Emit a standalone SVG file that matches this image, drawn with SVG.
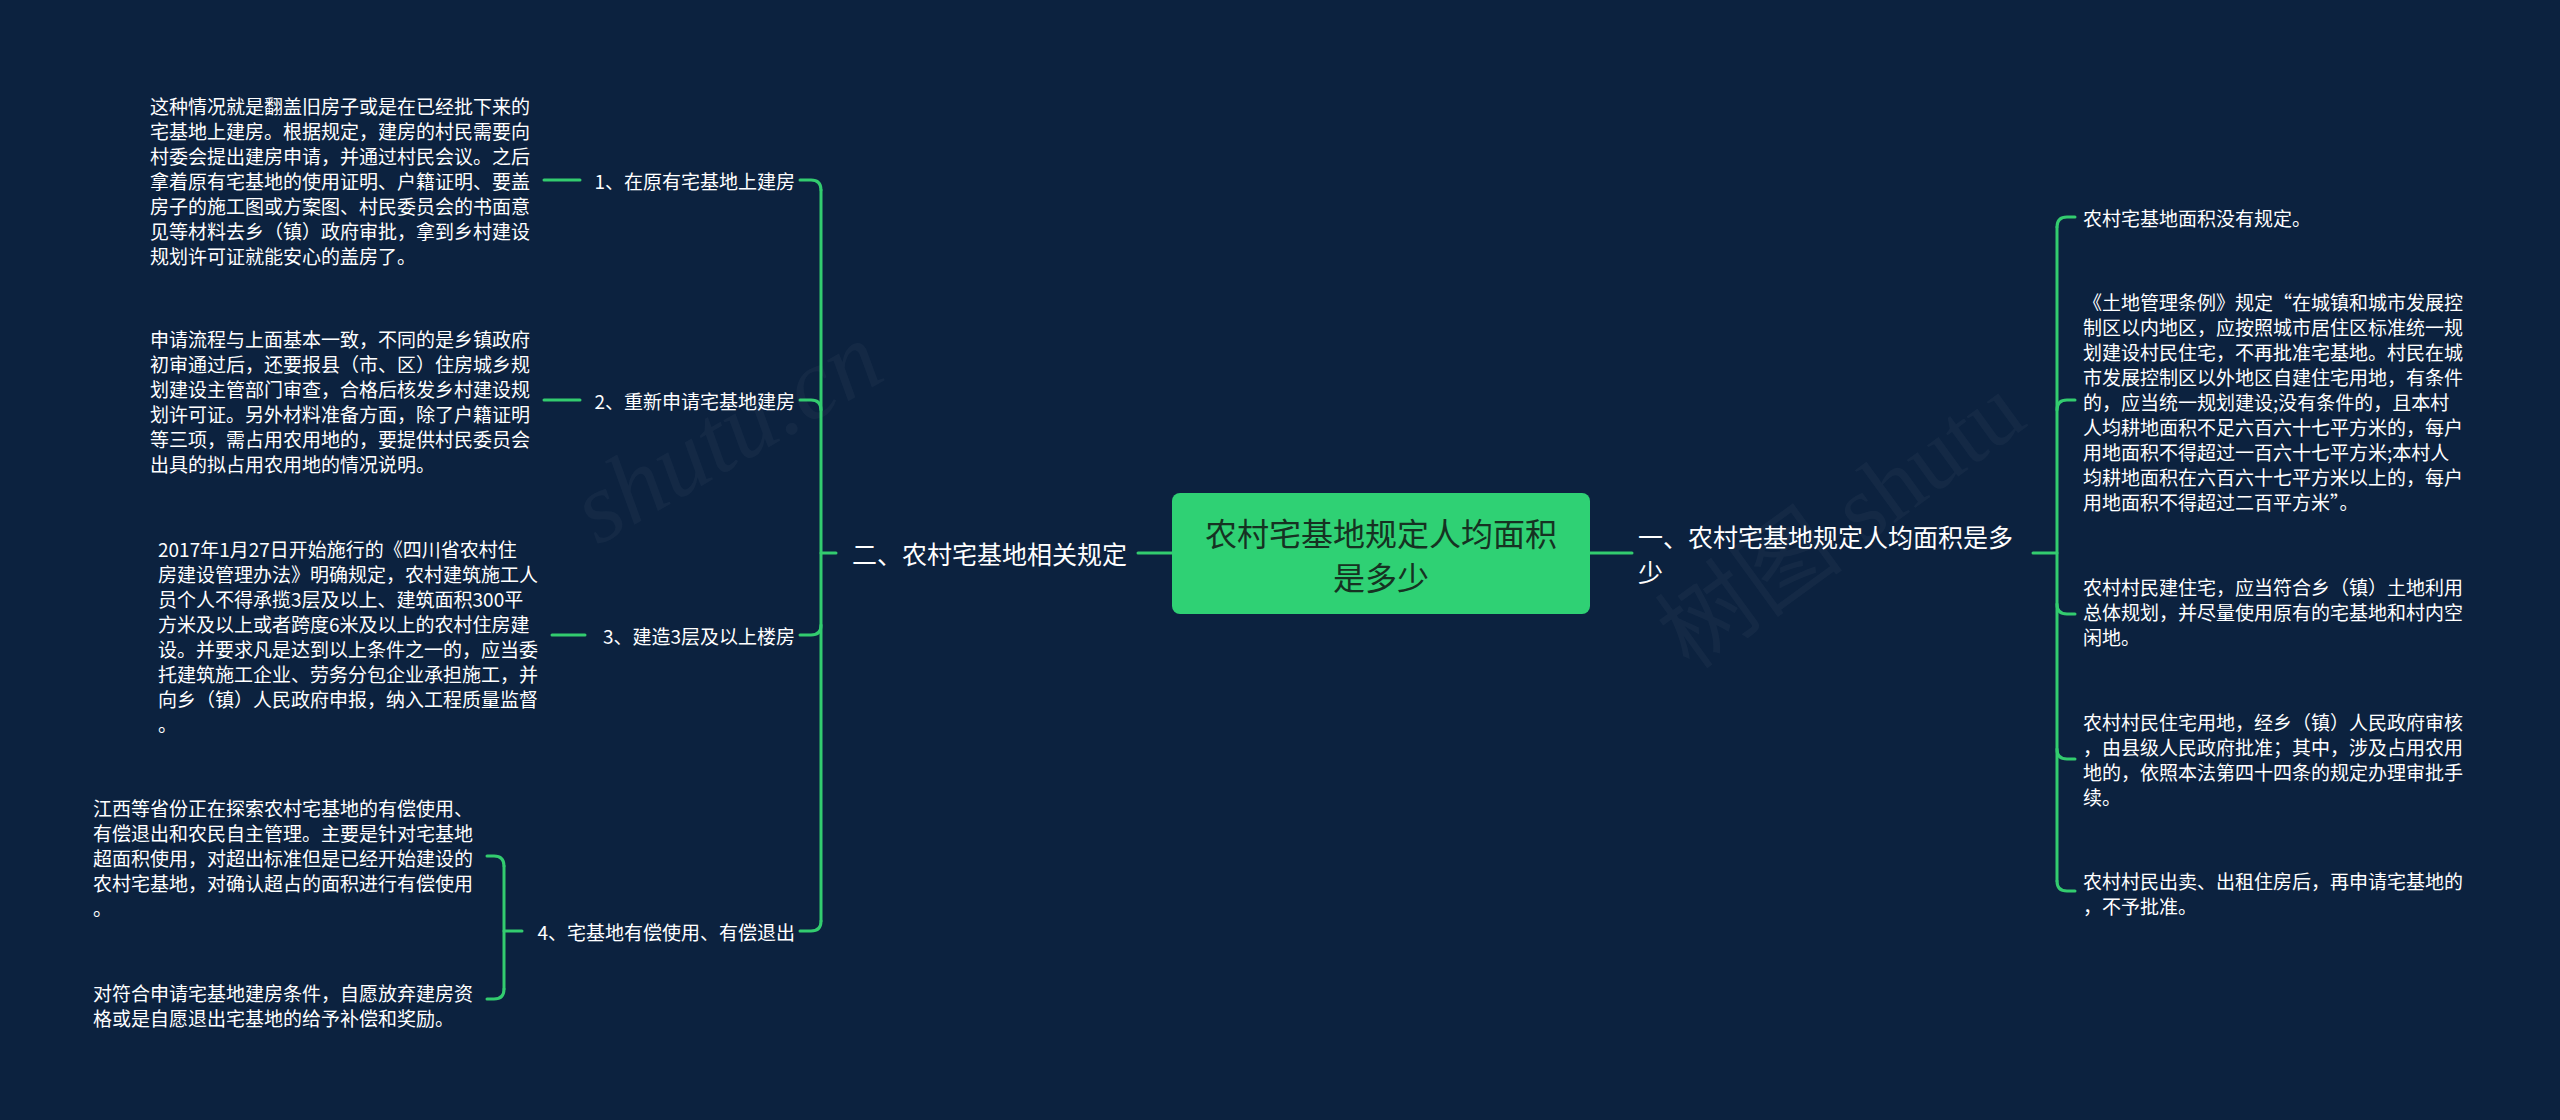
<svg xmlns="http://www.w3.org/2000/svg" width="2560" height="1120" viewBox="0 0 2560 1120">
<style>
.bg{fill:#0c223f}
.wm{font-family:"Liberation Serif",serif;font-style:italic;fill:#ffffff;fill-opacity:0.035}
.wmc{font-family:"Liberation Serif","Noto Sans CJK SC",serif;fill:#ffffff;fill-opacity:0.035}
.t{font-family:"Noto Sans CJK SC","Liberation Sans",sans-serif;fill:#ffffff;font-size:19px;dominant-baseline:central}
.m{font-family:"Noto Sans CJK SC","Liberation Sans",sans-serif;fill:#ffffff;font-size:25px;dominant-baseline:central}
.c{font-family:"Noto Sans CJK SC","Liberation Sans",sans-serif;fill:#163222;font-size:32px;dominant-baseline:central;text-anchor:middle}
.ln{fill:none;stroke:#33cc6f;stroke-width:3;stroke-linecap:round}
</style>
<rect class="bg" x="0" y="0" width="2560" height="1120"/>
<text class="wm" font-size="100" transform="translate(743,462) rotate(-30)" text-anchor="middle">shutu.cn</text>
<text class="wmc" font-size="95" transform="translate(1860,548) rotate(-36)" text-anchor="middle">树图 shutu</text>

<g id="connectors">
<path class="ln" d="M1138 553 H1172"/>
<path class="ln" d="M1590 553 H1632"/>
<path class="ln" d="M821 553 H836"/>
<path class="ln" d="M821 190 V921"/>
<path class="ln" d="M800 180 H811 Q821 180 821 190"/>
<path class="ln" d="M800 400 H811 Q821 400 821 410"/>
<path class="ln" d="M800 635 H811 Q821 635 821 625"/>
<path class="ln" d="M800 931 H811 Q821 931 821 921"/>
<path class="ln" d="M544 180 H580"/>
<path class="ln" d="M544 400 H580"/>
<path class="ln" d="M552 635 H585"/>
<path class="ln" d="M504 931 H522"/>
<path class="ln" d="M504 866 V989"/>
<path class="ln" d="M487 856 H494 Q504 856 504 866"/>
<path class="ln" d="M487 999 H494 Q504 999 504 989"/>
<path class="ln" d="M2033 553 H2057"/>
<path class="ln" d="M2057 227 V881"/>
<path class="ln" d="M2075 217 H2067 Q2057 217 2057 227"/>
<path class="ln" d="M2075 400 H2067 Q2057 400 2057 410"/>
<path class="ln" d="M2075 614 H2067 Q2057 614 2057 604"/>
<path class="ln" d="M2075 759 H2067 Q2057 759 2057 749"/>
<path class="ln" d="M2075 891 H2067 Q2057 891 2057 881"/>
</g>

<g id="root">
<rect x="1172" y="493" width="418" height="121" rx="8" fill="#2fd174"/>
<text class="c" x="1381" y="532">农村宅基地规定人均面积</text>
<text class="c" x="1381" y="576">是多少</text>
</g>

<g id="branch-right">
<text class="m" x="1638" y="536">一、农村宅基地规定人均面积是多</text>
<text class="m" x="1638" y="571">少</text>
</g>

<g id="branch-left">
<text class="m" x="852" y="553">二、农村宅基地相关规定</text>
</g>

<g id="l1"><text class="t" x="795" y="180" text-anchor="end">1、在原有宅基地上建房</text></g>
<g id="l2"><text class="t" x="795" y="400" text-anchor="end">2、重新申请宅基地建房</text></g>
<g id="l3"><text class="t" x="795" y="635" text-anchor="end">3、建造3层及以上楼房</text></g>
<g id="l4"><text class="t" x="795" y="931" text-anchor="end">4、宅基地有偿使用、有偿退出</text></g>

<g id="d1">
<text class="t" x="150" y="105">这种情况就是翻盖旧房子或是在已经批下来的</text>
<text class="t" x="150" y="130">宅基地上建房。根据规定，建房的村民需要向</text>
<text class="t" x="150" y="155">村委会提出建房申请，并通过村民会议。之后</text>
<text class="t" x="150" y="180">拿着原有宅基地的使用证明、户籍证明、要盖</text>
<text class="t" x="150" y="205">房子的施工图或方案图、村民委员会的书面意</text>
<text class="t" x="150" y="230">见等材料去乡（镇）政府审批，拿到乡村建设</text>
<text class="t" x="150" y="255">规划许可证就能安心的盖房了。</text>
</g>

<g id="d2">
<text class="t" x="150" y="338">申请流程与上面基本一致，不同的是乡镇政府</text>
<text class="t" x="150" y="363">初审通过后，还要报县（市、区）住房城乡规</text>
<text class="t" x="150" y="388">划建设主管部门审查，合格后核发乡村建设规</text>
<text class="t" x="150" y="413">划许可证。另外材料准备方面，除了户籍证明</text>
<text class="t" x="150" y="438">等三项，需占用农用地的，要提供村民委员会</text>
<text class="t" x="150" y="463">出具的拟占用农用地的情况说明。</text>
</g>

<g id="d3">
<text class="t" x="158" y="548">2017年1月27日开始施行的《四川省农村住</text>
<text class="t" x="158" y="573">房建设管理办法》明确规定，农村建筑施工人</text>
<text class="t" x="158" y="598">员个人不得承揽3层及以上、建筑面积300平</text>
<text class="t" x="158" y="623">方米及以上或者跨度6米及以上的农村住房建</text>
<text class="t" x="158" y="648">设。并要求凡是达到以上条件之一的，应当委</text>
<text class="t" x="158" y="673">托建筑施工企业、劳务分包企业承担施工，并</text>
<text class="t" x="158" y="698">向乡（镇）人民政府申报，纳入工程质量监督</text>
<text class="t" x="158" y="723">。</text>
</g>

<g id="d4a">
<text class="t" x="93" y="807">江西等省份正在探索农村宅基地的有偿使用、</text>
<text class="t" x="93" y="832">有偿退出和农民自主管理。主要是针对宅基地</text>
<text class="t" x="93" y="857">超面积使用，对超出标准但是已经开始建设的</text>
<text class="t" x="93" y="882">农村宅基地，对确认超占的面积进行有偿使用</text>
<text class="t" x="93" y="907">。</text>
</g>

<g id="d4b">
<text class="t" x="93" y="992">对符合申请宅基地建房条件，自愿放弃建房资</text>
<text class="t" x="93" y="1017">格或是自愿退出宅基地的给予补偿和奖励。</text>
</g>

<g id="r1"><text class="t" x="2083" y="217">农村宅基地面积没有规定。</text></g>

<g id="r2">
<text class="t" x="2083" y="301">《土地管理条例》规定“在城镇和城市发展控</text>
<text class="t" x="2083" y="326">制区以内地区，应按照城市居住区标准统一规</text>
<text class="t" x="2083" y="351">划建设村民住宅，不再批准宅基地。村民在城</text>
<text class="t" x="2083" y="376">市发展控制区以外地区自建住宅用地，有条件</text>
<text class="t" x="2083" y="401">的，应当统一规划建设;没有条件的，且本村</text>
<text class="t" x="2083" y="426">人均耕地面积不足六百六十七平方米的，每户</text>
<text class="t" x="2083" y="451">用地面积不得超过一百六十七平方米;本村人</text>
<text class="t" x="2083" y="476">均耕地面积在六百六十七平方米以上的，每户</text>
<text class="t" x="2083" y="501">用地面积不得超过二百平方米”。</text>
</g>

<g id="r3">
<text class="t" x="2083" y="586">农村村民建住宅，应当符合乡（镇）土地利用</text>
<text class="t" x="2083" y="611">总体规划，并尽量使用原有的宅基地和村内空</text>
<text class="t" x="2083" y="636">闲地。</text>
</g>

<g id="r4">
<text class="t" x="2083" y="721">农村村民住宅用地，经乡（镇）人民政府审核</text>
<text class="t" x="2083" y="746">，由县级人民政府批准；其中，涉及占用农用</text>
<text class="t" x="2083" y="771">地的，依照本法第四十四条的规定办理审批手</text>
<text class="t" x="2083" y="796">续。</text>
</g>

<g id="r5">
<text class="t" x="2083" y="880">农村村民出卖、出租住房后，再申请宅基地的</text>
<text class="t" x="2083" y="905">，不予批准。</text>
</g>
</svg>
